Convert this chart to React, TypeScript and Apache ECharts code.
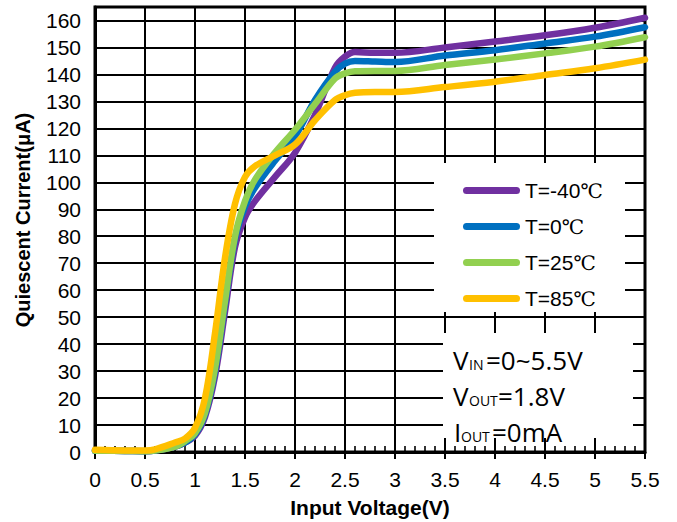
import React, { useEffect, useRef } from "react";
import * as echarts from "echarts";

const voltage = [0, 0.3, 0.5, 0.6, 0.8, 0.9, 1.0, 1.1, 1.2, 1.3, 1.4, 1.5, 1.6, 1.8, 2.0, 2.2, 2.4, 2.5, 2.6, 2.8, 3.0, 3.5, 4.0, 4.5, 5.0, 5.5];
const currentM40 = [0.5, 0.4, 0.3, 0.5, 2, 3.5, 6, 13, 28, 52, 76, 87, 93, 102, 111, 125, 142.5, 146.6, 148.3, 148, 148, 150, 152.2, 154.5, 157.3, 161];
const current0 = [0.5, 0.4, 0.3, 0.5, 2, 3.5, 6.5, 14, 30, 55, 79, 91, 98, 108, 117, 130.5, 141, 144, 145, 144.8, 144.6, 147, 149, 151.5, 154, 157.5];
const current25 = [0.5, 0.4, 0.3, 0.5, 2, 4, 7, 14.5, 31, 56, 80, 93, 101, 111, 119.5, 129, 138.5, 140.4, 141.2, 141.3, 141.3, 143.5, 145.5, 147.8, 150.3, 153.8];
const current85 = [0.8, 0.6, 0.6, 1, 3.5, 5, 9, 20, 44, 72, 92, 102, 106, 110, 114, 123, 130.5, 132.3, 133.2, 133.5, 133.5, 135.3, 137.3, 139.8, 142.3, 145.5];

const seriesNames = ["T=-40℃", "T=0℃", "T=25℃", "T=85℃"];
const seriesColors = ["#7030A0", "#0070C0", "#92D050", "#FFC000"];
const seriesValues = [currentM40, current0, current25, current85];

// minor tick positions on the voltage axis (every 0.1 V between the 0.5 V majors)
const minorTickValues: number[] = [];
for (let k = 1; k < 55; k++) {
  if (k % 5 !== 0) minorTickValues.push(k / 10);
}

const xTitle = "Input Voltage(V)";
const yTitle = "Quiescent Current(μA)";

const SANS = "'Liberation Sans', Arial, sans-serif";
const NOTE = "'Open Sans', sans-serif";

export default function App() {
  const ref = useRef<HTMLDivElement>(null);

  useEffect(() => {
    if (!ref.current) return;
    document.body.style.margin = "0";
    const chart = echarts.init(ref.current, null, { renderer: "svg" });

    const series: any[] = seriesNames.map((name, i) => ({
      name,
      type: "line",
      data: voltage.map((v, j) => [v, seriesValues[i][j]]),
      color: seriesColors[i],
      smooth: 0.35,
      showSymbol: false,
      symbol: "none",
      lineStyle: { width: 6.5, color: seriesColors[i], cap: "round", join: "round" },
      z: 2 + i,
    }));

    series.push({
      name: "minorTicks",
      type: "custom",
      silent: true,
      z: 1,
      data: minorTickValues.map((v) => [v, 0]),
      renderItem: (params: any, api: any) => {
        const p = api.coord([api.value(0), 0]);
        return {
          type: "line",
          shape: { x1: p[0], y1: p[1] - 1, x2: p[0], y2: p[1] - 6 },
          style: { stroke: "#000", lineWidth: 1.6 },
        };
      },
    });

    const noteBig = { fontFamily: NOTE, fontSize: 26, fill: "#000", verticalAlign: "middle" };
    const noteSmall = { fontFamily: NOTE, fontSize: 14, fill: "#000", verticalAlign: "middle" };

    const noteLine = (parts: { t: string; x: number; small?: boolean }[], baseline: number) =>
      parts.map((p) => ({
        type: "text",
        x: p.x,
        y: baseline - (p.small ? 14 : 26) * 0.388,
        z: 10,
        style: { ...(p.small ? noteSmall : noteBig), text: p.t, align: "left" },
      }));

    chart.setOption({
      animation: false,
      backgroundColor: "#fff",
      grid: {
        left: 95,
        right: 32,
        top: 7,
        bottom: 70,
        show: true,
        borderColor: "#000",
        borderWidth: 3,
        backgroundColor: "transparent",
      },
      legend: {
        orient: "vertical",
        left: 458,
        top: 175,
        itemWidth: 57,
        itemHeight: 7,
        itemGap: 15,
        itemTextGap: 5,
        icon: "path://M3.5,0 L53.5,0 A3.5,3.5 0 0 1 53.5,7 L3.5,7 A3.5,3.5 0 0 1 3.5,0 Z",
        data: seriesNames,
        z: 8,
        formatter: (name: string) => `{a|${name.replace("℃", "")}}{b|℃}`,
        textStyle: {
          color: "#000",
          rich: {
            a: { fontFamily: SANS, fontSize: 21, lineHeight: 20, color: "#000" },
            b: { fontFamily: "'DejaVu Serif', 'Liberation Serif', serif", fontSize: 20, lineHeight: 20, color: "#000" },
          },
        },
      },
      xAxis: {
        type: "value",
        min: 0,
        max: 5.5,
        interval: 0.5,
        axisLine: { show: true, lineStyle: { color: "#000", width: 3 } },
        axisTick: { show: true, inside: false, length: 7, lineStyle: { color: "#000", width: 2 } },
        axisLabel: { color: "#000", fontFamily: SANS, fontSize: 21, margin: 17 },
        splitLine: { show: true, lineStyle: { color: "#000", width: 2 } },
      },
      yAxis: {
        type: "value",
        min: 0,
        max: 165,
        interval: 10,
        axisLine: { show: true, lineStyle: { color: "#000", width: 3 } },
        axisTick: { show: false },
        axisLabel: {
          color: "#000",
          fontFamily: SANS,
          fontSize: 21,
          margin: 14,
          formatter: (v: number) => (v > 160 ? "" : String(v)),
        },
        splitLine: { show: true, lineStyle: { color: "#000", width: 2 } },
      },
      graphic: [
        { type: "rect", z: 6, shape: { x: 434, y: 163, width: 191, height: 149 }, style: { fill: "#fff" } },
        { type: "rect", z: 6, shape: { x: 443, y: 333, width: 190, height: 105 }, style: { fill: "#fff" } },
        ...noteLine([{ t: "V", x: 453 }, { t: "IN", x: 469, small: true }, { t: "=0~5.5V", x: 486 }], 370),
        ...noteLine([{ t: "V", x: 453 }, { t: "OUT", x: 469, small: true }, { t: "=1.8V", x: 498 }], 406),
        ...noteLine([{ t: "I", x: 454 }, { t: "OUT", x: 461, small: true }, { t: "=0mA", x: 492 }], 442),
        {
          type: "text",
          x: 370,
          y: 507,
          z: 10,
          style: { text: xTitle, fontFamily: SANS, fontWeight: "bold", fontSize: 21, fill: "#000", align: "center", verticalAlign: "middle" },
        },
        {
          type: "text",
          x: 23,
          y: 220,
          rotation: Math.PI / 2,
          z: 10,
          style: { text: yTitle, fontFamily: SANS, fontWeight: "bold", fontSize: 20, fill: "#000", align: "center", verticalAlign: "middle" },
        },
      ],
      series,
    });

    return () => chart.dispose();
  }, []);

  return <div ref={ref} style={{ width: 677, height: 522 }} />;
}
